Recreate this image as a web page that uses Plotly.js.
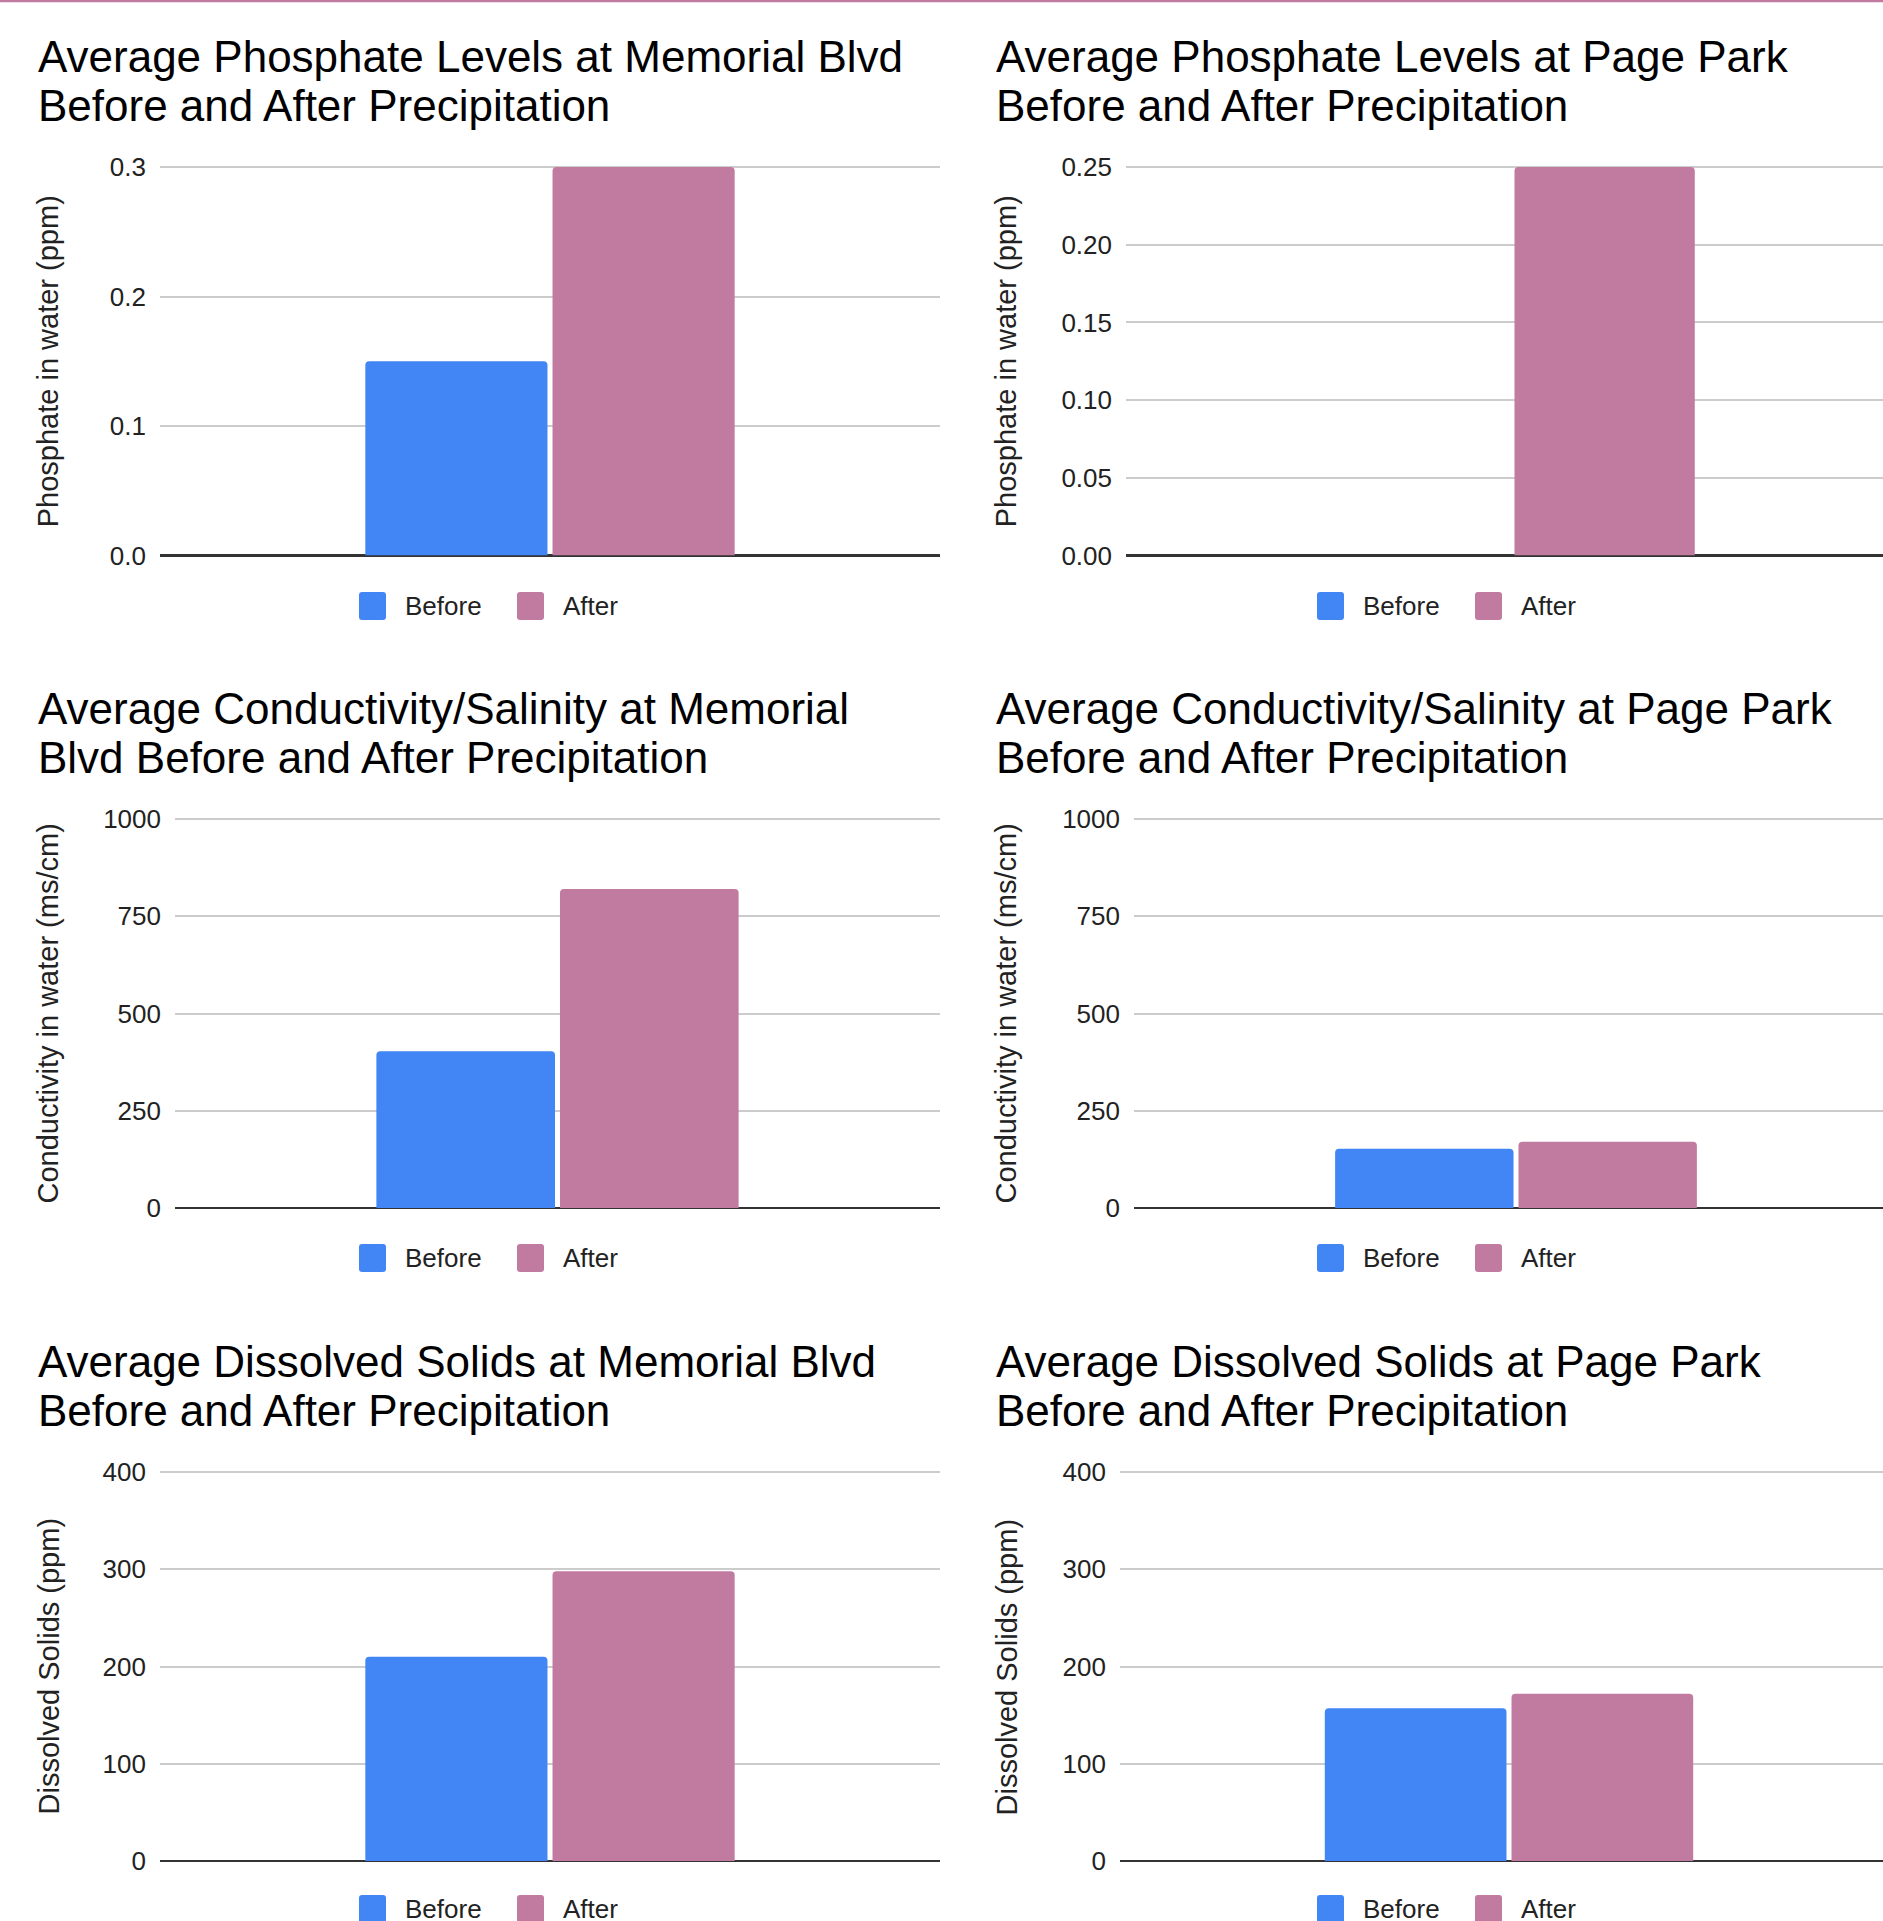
<!DOCTYPE html>
<html>
<head>
<meta charset="utf-8">
<script src="https://cdn.plot.ly/plotly-3.0.1.min.js"></script>
<style>
html,body{margin:0;padding:0;background:#fff;overflow:hidden;}
#chart{width:1883px;height:1921px;}
</style>
</head>
<body>
<div id="chart"></div>
<script>
// ---------- data ----------
const seriesNames = ['Before', 'After'];
const seriesColors = ['#4285f4', '#c27ba0'];
const category = ['Site'];

const phosphateMemorial = [0.15, 0.30];
const phosphatePage = [0, 0.25];
const conductivityMemorial = [403, 820];
const conductivityPage = [152, 170];
const solidsMemorial = [210, 298];
const solidsPage = [157, 172];

const titles = [
  ['Average Phosphate Levels at Memorial Blvd', 'Before and After Precipitation'],
  ['Average Phosphate Levels at Page Park', 'Before and After Precipitation'],
  ['Average Conductivity/Salinity at Memorial', 'Blvd Before and After Precipitation'],
  ['Average Conductivity/Salinity at Page Park', 'Before and After Precipitation'],
  ['Average Dissolved Solids at Memorial Blvd', 'Before and After Precipitation'],
  ['Average Dissolved Solids at Page Park', 'Before and After Precipitation']
];
const yTitles = [
  'Phosphate in water (ppm)', 'Phosphate in water (ppm)',
  'Conductivity in water (ms/cm)', 'Conductivity in water (ms/cm)',
  'Dissolved Solids (ppm)', 'Dissolved Solids (ppm)'
];
const yTicks = [
  [0, 0.1, 0.2, 0.3],
  [0, 0.05, 0.10, 0.15, 0.20, 0.25],
  [0, 250, 500, 750, 1000],
  [0, 250, 500, 750, 1000],
  [0, 100, 200, 300, 400],
  [0, 100, 200, 300, 400]
];
const yTickFormats = ['.1f', '.2f', 'd', 'd', 'd', 'd'];
const chartValues = [phosphateMemorial, phosphatePage, conductivityMemorial, conductivityPage, solidsMemorial, solidsPage];

// ---------- layout geometry (pixels) ----------
const W = 1883, H = 1921;
const FONT = 'Liberation Sans, Arial, Helvetica, sans-serif';
const px = v => v / W;
const py = v => 1 - v / H;
const COL_OFF = 958;
const FULL_RIGHT = [940, 940 + COL_OFF];
const plotLeft = [160, 1126, 175, 1134, 160, 1120];
const rowTop = [167, 819, 1472];
const rowBottom = [555.5, 1208, 1861];
const titleLineY = [[56, 105], [708, 757], [1361, 1410]];
const legendY = [606, 1258, 1909];
const TOP_PAD = 3; // px of headroom so the top gridline is drawn

const data = [];
const layout = {
  width: W, height: H,
  margin: {l: 0, r: 0, t: 0, b: 0},
  paper_bgcolor: '#ffffff',
  plot_bgcolor: '#ffffff',
  showlegend: false,
  barmode: 'group',
  bargap: 0.52,
  bargroupgap: 0.027,
  barcornerradius: 4,
  font: {family: FONT, color: '#222'},
  annotations: [],
  shapes: []
};

function roundedRect(x0, y0, x1, y1, r) {
  const X = v => px(v), Y = v => py(v);
  return `M${X(x0 + r)},${Y(y0)} L${X(x1 - r)},${Y(y0)} Q${X(x1)},${Y(y0)} ${X(x1)},${Y(y0 + r)} ` +
         `L${X(x1)},${Y(y1 - r)} Q${X(x1)},${Y(y1)} ${X(x1 - r)},${Y(y1)} ` +
         `L${X(x0 + r)},${Y(y1)} Q${X(x0)},${Y(y1)} ${X(x0)},${Y(y1 - r)} ` +
         `L${X(x0)},${Y(y0 + r)} Q${X(x0)},${Y(y0)} ${X(x0 + r)},${Y(y0)} Z`;
}

for (let i = 0; i < 6; i++) {
  const row = Math.floor(i / 2), col = i % 2;
  const ax = i === 0 ? '' : String(i + 1);
  const xa = 'xaxis' + ax, ya = 'yaxis' + ax;
  const left = plotLeft[i];
  const fullRight = FULL_RIGHT[col];
  const right = Math.min(fullRight, W);
  const rangeMax = -0.5 + (right - left) / (fullRight - left);

  seriesNames.forEach((name, s) => {
    data.push({
      type: 'bar',
      name: name,
      x: category,
      y: [chartValues[i][s]],
      xaxis: 'x' + ax,
      yaxis: 'y' + ax,
      marker: {color: seriesColors[s]},
      hoverinfo: 'skip'
    });
  });

  const ticks = yTicks[i];
  const topVal = ticks[ticks.length - 1];
  const plotH = rowBottom[row] - rowTop[row];
  layout[xa] = {
    domain: [px(left), px(right)],
    range: [-0.5, rangeMax],
    type: 'category',
    showticklabels: false,
    showgrid: false,
    zeroline: false,
    showline: false,
    ticks: '',
    fixedrange: true,
    anchor: 'y' + ax
  };
  layout[ya] = {
    domain: [py(rowBottom[row]), py(rowTop[row] - TOP_PAD)],
    range: [0, topVal * (1 + TOP_PAD / plotH)],
    tickvals: ticks,
    tickformat: yTickFormats[i],
    showgrid: true,
    gridcolor: '#cccccc',
    gridwidth: 2,
    zeroline: true,
    zerolinecolor: '#333333',
    zerolinewidth: 2.5,
    showline: false,
    ticks: '',
    ticklabelstandoff: 13,
    tickfont: {family: FONT, size: 26, color: '#222'},
    fixedrange: true,
    anchor: 'x' + ax
  };

  titles[i].forEach((line, k) => {
    layout.annotations.push({
      text: line,
      xref: 'paper', yref: 'paper',
      x: px(36 + col * COL_OFF), y: py(titleLineY[row][k]),
      xanchor: 'left', yanchor: 'middle',
      showarrow: false,
      font: {family: FONT, size: 44, color: '#000'}
    });
  });

  layout.annotations.push({
    text: yTitles[i],
    xref: 'paper', yref: 'paper',
    x: px(48 + col * COL_OFF), y: py((rowTop[row] + rowBottom[row]) / 2),
    xanchor: 'center', yanchor: 'middle',
    textangle: -90,
    showarrow: false,
    font: {family: FONT, size: 29, color: '#222'}
  });

  const lx = [359, 517];
  seriesNames.forEach((name, s) => {
    const x0 = lx[s] + col * COL_OFF;
    const yc = legendY[row];
    layout.shapes.push({
      type: 'path', xref: 'paper', yref: 'paper',
      path: roundedRect(x0, yc - 14, x0 + 27, yc + 14, 3),
      fillcolor: seriesColors[s],
      line: {width: 0}
    });
    layout.annotations.push({
      text: name,
      xref: 'paper', yref: 'paper',
      x: px(x0 + 44), y: py(yc),
      xanchor: 'left', yanchor: 'middle',
      showarrow: false,
      font: {family: FONT, size: 26, color: '#222'}
    });
  });
}

layout.shapes.push({
  type: 'line', xref: 'paper', yref: 'paper',
  x0: 0, x1: 1, y0: py(1), y1: py(1),
  line: {color: '#c27ba0', width: 2.5}
});

Plotly.newPlot('chart', data, layout, {displayModeBar: false, staticPlot: true});
</script>
</body>
</html>
